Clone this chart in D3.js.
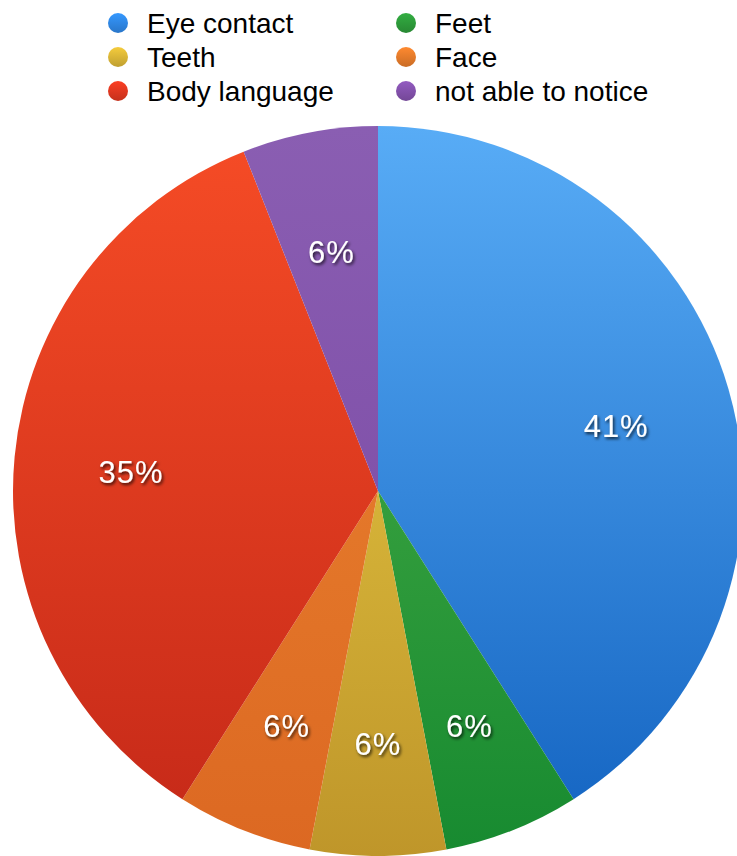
<!DOCTYPE html>
<html>
<head>
<meta charset="utf-8">
<script src="https://cdn.jsdelivr.net/npm/d3@7"></script>
<style>
  html, body { margin: 0; padding: 0; background: #fff; }
  svg { display: block; }
</style>
</head>
<body>
<svg id="chart" width="737" height="856"></svg>
<script>
// Survey answers, in clockwise order from 12 o'clock
const categories = ["Eye contact", "Feet", "Teeth", "Face", "Body language", "not able to notice"];
const values = [41, 6, 6, 6, 35, 6];
// Top / bottom shades of each slice's vertical gradient
const colorsTop = ["#58acf6", "#50b24a", "#ecd046", "#ec8832", "#f64c26", "#8a5eb2"];
const colorsBottom = ["#1262c0", "#178a30", "#bf962a", "#dc6822", "#c42818", "#7846a2"];
const legendColors = ["#2f86e4", "#2d9a3a", "#d8b436", "#e47a2a", "#de3820", "#8250aa"];
// Legend layout: two columns, three rows
const legendOrder = ["Eye contact", "Teeth", "Body language", "Feet", "Face", "not able to notice"];

const svg = d3.select("#chart");
const cx = 378, cy = 491, R = 365;

const defs = svg.append("defs");
categories.forEach((c, i) => {
  const g = defs.append("linearGradient")
    .attr("id", "grad" + i)
    .attr("gradientUnits", "userSpaceOnUse")
    .attr("x1", 0).attr("y1", -R).attr("x2", 0).attr("y2", R);
  g.append("stop").attr("offset", "0%").attr("stop-color", colorsTop[i]);
  g.append("stop").attr("offset", "100%").attr("stop-color", colorsBottom[i]);

  const lg = defs.append("linearGradient")
    .attr("id", "lgrad" + i)
    .attr("x1", 0).attr("y1", 0).attr("x2", 0).attr("y2", 1);
  lg.append("stop").attr("offset", "0%").attr("stop-color", d3.color(legendColors[i]).brighter(0.35));
  lg.append("stop").attr("offset", "100%").attr("stop-color", d3.color(legendColors[i]).darker(0.35));
});

const shadow = defs.append("filter").attr("id", "txtShadow")
  .attr("x", "-30%").attr("y", "-30%").attr("width", "160%").attr("height", "160%");
shadow.append("feDropShadow")
  .attr("dx", 1.5).attr("dy", 2).attr("stdDeviation", 1.4)
  .attr("flood-color", "#000").attr("flood-opacity", 0.75);

const pie = d3.pie().sort(null).value(d => d.v);
const arcs = pie(categories.map((c, i) => ({ c, v: values[i], i })));
const arc = d3.arc().innerRadius(0).outerRadius(R);
const labelArc = d3.arc().innerRadius(248).outerRadius(248);

const g = svg.append("g").attr("transform", `translate(${cx},${cy})`);

g.selectAll("path.slice")
  .data(arcs)
  .join("path")
  .attr("class", "slice")
  .attr("d", arc)
  .attr("fill", d => `url(#grad${d.data.i})`);

g.selectAll("text.pct")
  .data(arcs)
  .join("text")
  .attr("class", "pct")
  .attr("transform", d => {
    const [x, y] = labelArc.centroid(d);
    return `translate(${x},${y + 5})`;
  })
  .attr("text-anchor", "middle")
  .attr("dominant-baseline", "central")
  .attr("font-family", "Liberation Sans, Arial, Helvetica, sans-serif")
  .attr("font-size", 31)
  .attr("letter-spacing", 1)
  .attr("fill", "#fff")
  .attr("filter", "url(#txtShadow)")
  .text(d => d3.format(".0f")(d.data.v) + "%");

// Legend
const legend = svg.append("g");
legendOrder.forEach((name, k) => {
  const i = categories.indexOf(name);
  const col = Math.floor(k / 3), row = k % 3;
  const x = col === 0 ? 118 : 406;
  const y = 23 + row * 34;
  legend.append("circle")
    .attr("cx", x).attr("cy", y).attr("r", 10)
    .attr("fill", `url(#lgrad${i})`);
  legend.append("text")
    .attr("x", x + 29).attr("y", y + 10)
    .attr("font-family", "Liberation Sans, Arial, Helvetica, sans-serif")
    .attr("font-size", 28)
    .attr("fill", "#000")
    .text(name);
});
</script>
</body>
</html>
